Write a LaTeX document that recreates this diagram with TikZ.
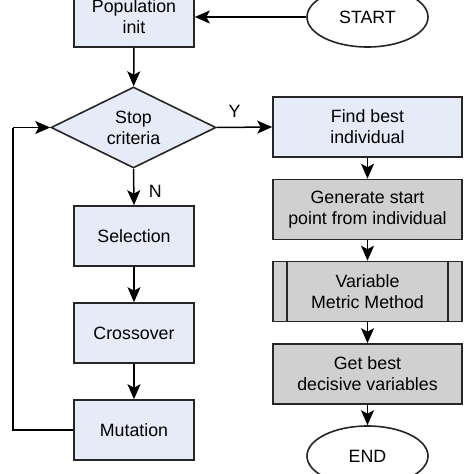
\documentclass[tikz,border=0pt]{standalone}
\usepackage{fontspec}
\setmainfont{Liberation Sans}
\usetikzlibrary{shapes.geometric,arrows.meta}
\definecolor{boxblue}{HTML}{E6ECF7}
\definecolor{boxgray}{HTML}{D0D0D0}
\definecolor{edge}{HTML}{262626}
\begin{document}
\begin{tikzpicture}[x=1pt,y=-1pt,
  every node/.style={font=\fontsize{17.8}{21}\selectfont, align=center},
  bluebox/.style={draw=edge, line width=1.6pt, fill=boxblue, minimum width=120pt, minimum height=60pt, inner sep=0pt},
  graybox/.style={draw=edge, line width=1.6pt, fill=boxgray, minimum width=189pt, minimum height=60pt, inner sep=0pt},
  term/.style={draw=edge, line width=1.6pt, fill=white, ellipse, minimum width=121pt, minimum height=60pt, inner sep=0pt},
  arr/.style={draw=black, line width=1.5pt, -{Stealth[length=15pt,width=13pt,inset=3.5pt]}},
  plain/.style={draw=black, line width=1.5pt}]
\useasboundingbox (0,0) rectangle (474,474);
\fill[white] (0,0) rectangle (474,474);
\node[bluebox] (pop) at (134,17) {Population\\init};
\node[term] (start) at (367.5,17) {START};
\node[diamond, draw=edge, line width=1.6pt, fill=boxblue, minimum width=165pt, minimum height=81pt, inner sep=0pt] (stop) at (133.5,127.5) {};
\node (stoptxt) at (stop.center) {Stop\\criteria};
\node[bluebox, minimum width=189pt] (find) at (367.5,127) {Find best\\individual};
\node[graybox] (gen) at (367.5,209.5) {Generate start\\point from individual};
\node[graybox] (vmm) at (367.5,291.5) {Variable\\Metric Method};
\draw[edge, line width=1.6pt] ([xshift=15pt]vmm.north west) -- ([xshift=15pt]vmm.south west);
\draw[edge, line width=1.6pt] ([xshift=-15pt]vmm.north east) -- ([xshift=-15pt]vmm.south east);
\node[graybox] (get) at (367.5,374) {Get best\\decisive variables};
\node[term] (end) at (367.5,456) {END};
\node[bluebox] (sel) at (134,236) {Selection};
\node[bluebox] (cross) at (134,333) {Crossover};
\node[bluebox] (mut) at (134,430) {Mutation};
\coordinate (lb) at (13,430);
\coordinate (lt) at (13,127.5);
\draw[arr] (start) -- (pop);
\draw[arr] (pop) -- (stop);
\draw[arr] (stop.east) -- node[above, yshift=6pt, xshift=-10pt] (ylab) {Y} (find.west);
\draw[arr] (stop.south) -- node[right, xshift=11pt, yshift=-4pt] (nlab) {N} (sel.north);
\draw[arr] (sel) -- (cross);
\draw[arr] (cross) -- (mut);
\draw[plain] (mut.west) -- (lb) -- (lt);
\draw[arr] (lt) -- (stop.west);
\draw[arr] (find) -- (gen);
\draw[arr] (gen) -- (vmm);
\draw[arr] (vmm) -- (get);
\draw[arr] (get) -- (end);
\end{tikzpicture}
\end{document}
